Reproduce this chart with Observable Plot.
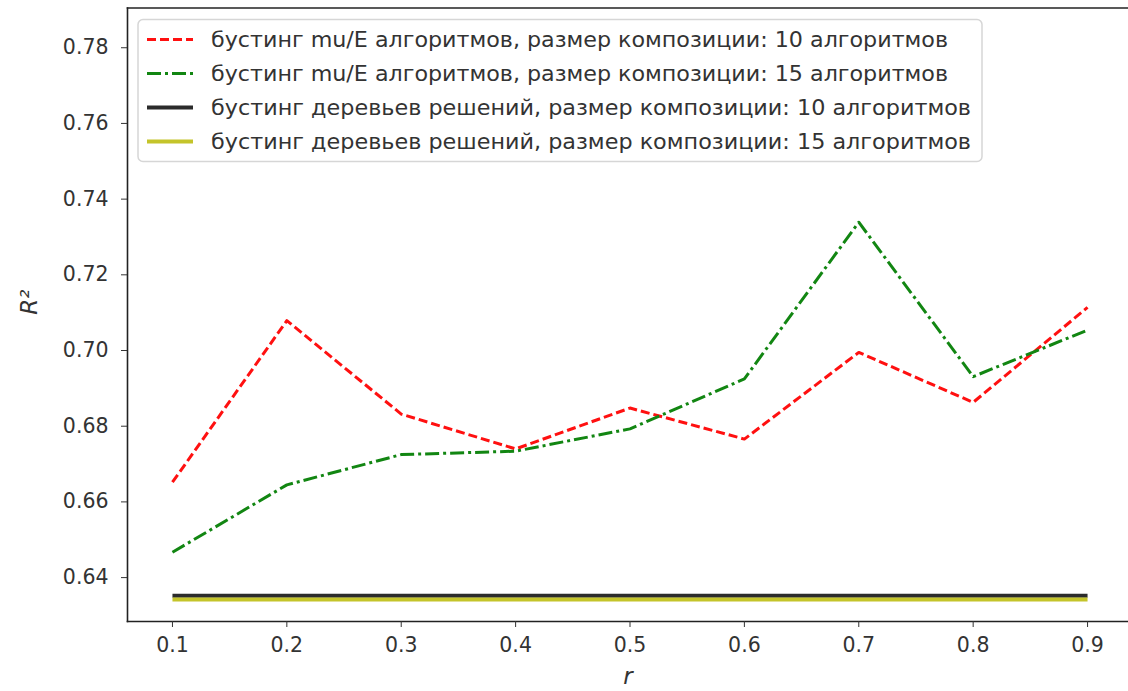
<!DOCTYPE html>
<html><head><meta charset="utf-8">
<script src="https://cdn.jsdelivr.net/npm/d3@7"></script>
<script src="https://cdn.jsdelivr.net/npm/@observablehq/plot@0.6"></script>
<style>
body{margin:0;background:#fff;}
#wrap{position:relative;width:1128px;height:691px;}
#legend{position:absolute;left:0;top:0;}
</style></head><body><div id="wrap"></div>
<script>
const rValues = [0.1, 0.2, 0.3, 0.4, 0.5, 0.6, 0.7, 0.8, 0.9];
const muE10 = [0.6652, 0.7079, 0.6832, 0.6740, 0.6848, 0.6766, 0.6995, 0.6863, 0.7114];
const muE15 = [0.6467, 0.6645, 0.6725, 0.6734, 0.6793, 0.6925, 0.7339, 0.6931, 0.7054];
const trees10 = [0.6352, 0.6352, 0.6352, 0.6352, 0.6352, 0.6352, 0.6352, 0.6352, 0.6352];
const trees15 = [0.6342, 0.6342, 0.6342, 0.6342, 0.6342, 0.6342, 0.6342, 0.6342, 0.6342];
const seriesNames = [
  "бустинг mu/E алгоритмов, размер композиции: 10 алгоритмов",
  "бустинг mu/E алгоритмов, размер композиции: 15 алгоритмов",
  "бустинг деревьев решений, размер композиции: 10 алгоритмов",
  "бустинг деревьев решений, размер композиции: 15 алгоритмов"
];
const seriesColors = ["#ff1010", "#128612", "#2b2b2b", "#c4c42a"];
const seriesDash = ["9,4", "14,4,3,4", null, null];
const seriesWidth = [3, 3, 4, 4];
const yTicks = [0.64, 0.66, 0.68, 0.70, 0.72, 0.74, 0.76, 0.78];
const xTicks = [0.1, 0.2, 0.3, 0.4, 0.5, 0.6, 0.7, 0.8, 0.9];
const xLabel = "r";
const yLabel = "R²";

const allSeries = [muE10, muE15, trees10, trees15];
const rows = allSeries.map((vals, i) => rValues.map((r, j) => ({r, v: vals[j], s: i})));

const textColor = "#333";
const fontFamily = "DejaVu Sans, sans-serif";

const chart = Plot.plot({
  width: 1128,
  height: 691,
  marginLeft: 127,
  marginRight: 0,
  marginTop: 7.5,
  marginBottom: 70,
  style: {fontFamily, background: "#fff", overflow: "visible"},
  x: {domain: [0.0607, 0.9358]},
  y: {domain: [0.6284, 0.7905]},
  marks: [
    Plot.frame({anchor: "left", stroke: "#222", strokeWidth: 1.6}),
    Plot.frame({anchor: "top", stroke: "#222", strokeWidth: 1.6}),
    Plot.frame({anchor: "bottom", stroke: "#222", strokeWidth: 1.6}),
    ...rows.map((data, i) => Plot.line(data, {
      x: "r", y: "v",
      stroke: seriesColors[i],
      strokeWidth: seriesWidth[i],
      strokeDasharray: seriesDash[i],
      strokeLinecap: "butt",
      strokeLinejoin: "round"
    })),
    Plot.axisY(yTicks, {
      tickSize: 6, tickPadding: 13, tickFormat: d3.format(".2f"),
      fontSize: 20.5, fill: textColor, stroke: textColor, label: null
    }),
    Plot.axisX(xTicks, {
      tickSize: 6, tickPadding: 10, tickFormat: d3.format(".1f"),
      fontSize: 20.5, fill: textColor, stroke: textColor, label: null
    }),
    Plot.text([yLabel], {frameAnchor: "left", dx: -98, rotate: -90, fontSize: 23, fontStyle: "italic", fill: textColor, text: d => d}),
    Plot.text([xLabel], {frameAnchor: "bottom", dy: 62, fontSize: 23, fontStyle: "italic", fill: textColor, text: d => d})
  ]
});

const wrap = document.getElementById("wrap");
wrap.appendChild(chart);

// Legend overlay
const legendTextEnds = [948, 948, 971, 971];
const ns = "http://www.w3.org/2000/svg";
const leg = document.createElementNS(ns, "svg");
leg.setAttribute("id", "legend");
leg.setAttribute("width", 1128);
leg.setAttribute("height", 200);
const box = document.createElementNS(ns, "rect");
box.setAttribute("x", 138); box.setAttribute("y", 19.5);
box.setAttribute("width", 844); box.setAttribute("height", 142);
box.setAttribute("rx", 5);
box.setAttribute("fill", "#fff"); box.setAttribute("fill-opacity", 0.85);
box.setAttribute("stroke", "#d6d6d6"); box.setAttribute("stroke-width", 1.5);
leg.appendChild(box);
seriesNames.forEach((name, i) => {
  const cy = 39.5 + i * 34;
  const ln = document.createElementNS(ns, "line");
  ln.setAttribute("x1", 147); ln.setAttribute("x2", 193);
  ln.setAttribute("y1", cy); ln.setAttribute("y2", cy);
  ln.setAttribute("stroke", seriesColors[i]);
  ln.setAttribute("stroke-width", seriesWidth[i]);
  if (seriesDash[i]) ln.setAttribute("stroke-dasharray", seriesDash[i]);
  leg.appendChild(ln);
  const t = document.createElementNS(ns, "text");
  t.setAttribute("x", 211); t.setAttribute("y", cy);
  t.setAttribute("dy", "0.35em");
  t.setAttribute("font-family", fontFamily);
  t.setAttribute("font-size", 21.5);
  t.setAttribute("fill", textColor);
  t.setAttribute("textLength", legendTextEnds[i] - 211);
  t.setAttribute("lengthAdjust", "spacingAndGlyphs");
  t.textContent = name;
  leg.appendChild(t);
});
wrap.appendChild(leg);
</script>
</body></html>
